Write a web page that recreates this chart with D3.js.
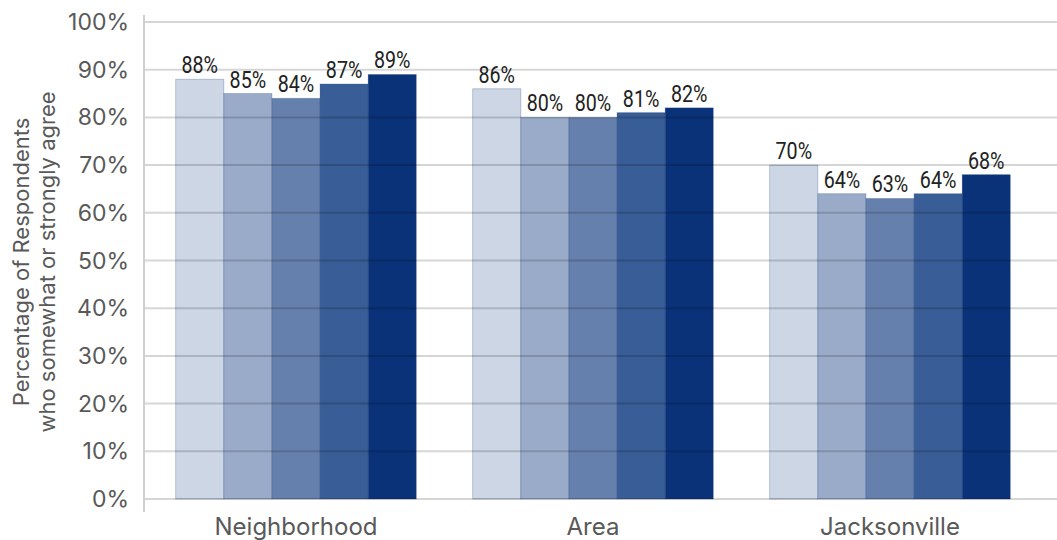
<!DOCTYPE html>
<html><head><meta charset="utf-8">
<script src="https://cdn.jsdelivr.net/npm/d3@7"></script>
<style>body{margin:0;background:#fff}svg{display:block}</style>
</head><body><svg id="c" width="1057" height="540"></svg>
<script>
const categories = ["Neighborhood", "Area", "Jacksonville"];
const seriesNames = ["S1", "S2", "S3", "S4", "S5"];
const values = [
  [88, 85, 84, 87, 89],
  [86, 80, 80, 81, 82],
  [70, 64, 63, 64, 68]
];
const colors = ["#cdd6e5", "#9aabc9", "#6680ad", "#395d96", "#0a3278"];
const yTicks = [0,10,20,30,40,50,60,70,80,90,100];
const yTitle = ["Percentage of Respondents", "who somewhat or strongly agree"];

const svg = d3.select("#c");
const y = d3.scaleLinear().domain([0,100]).range([499, 22]);
const x0 = d3.scaleBand().domain(categories).range([146, 1040]).paddingInner(0.19).paddingOuter(0.1);
const x1 = d3.scaleBand().domain(seriesNames).range([0, x0.bandwidth()]);

const g = svg.append("g");
values.forEach((row, i) => {
  const gg = g.append("g").attr("transform", `translate(${x0(categories[i])},0)`);
  gg.selectAll("rect").data(row).join("rect")
    .attr("x", (d,j)=>x1(seriesNames[j]))
    .attr("y", d=>y(d))
    .attr("width", x1.bandwidth())
    .attr("height", d=>y(0)-y(d))
    .attr("fill", (d,j)=>colors[j])
    .attr("stroke", "#2a4a85").attr("stroke-opacity", 0.35).attr("stroke-width", 0.8);
});

// gridlines on top
svg.append("g").selectAll("line").data(yTicks).join("line")
  .attr("x1", 144).attr("x2", 1057)
  .attr("y1", d=>y(d)).attr("y2", d=>y(d))
  .attr("stroke", "#000").attr("stroke-opacity", 0.16).attr("stroke-width", 2);

// labels
values.forEach((row, i) => {
  const gg = svg.append("g").attr("transform", `translate(${x0(categories[i])},0)`);
  gg.selectAll("text").data(row).join("text")
    .attr("transform", (d,j)=>`translate(${x1(seriesNames[j]) + x1.bandwidth()/2},${y(d) - 6}) scale(0.82,1)`)
    .attr("text-anchor", "middle")
    .attr("font-family", "Roboto, sans-serif")
    .attr("font-size", 24)
    .attr("fill", "#222")
    .text(d=>d + "%");
});

// y axis line
svg.append("line").attr("x1",144).attr("x2",144).attr("y1",15).attr("y2",512)
  .attr("stroke","#cfcfcf").attr("stroke-width",2);

// y tick labels
svg.append("g").selectAll("text").data(yTicks).join("text")
  .attr("x", 129).attr("y", d=>y(d)+8)
  .attr("text-anchor","end")
  .attr("font-family","Inter, Roboto, sans-serif")
  .attr("font-size",23).attr("fill","#595959")
  .text(d=>d+"%");

// category labels
svg.append("g").selectAll("text").data(categories).join("text")
  .attr("x", d=>x0(d)+x0.bandwidth()/2).attr("y", 535)
  .attr("text-anchor","middle")
  .attr("font-family","Inter, Roboto, sans-serif")
  .attr("font-size",24).attr("fill","#595959")
  .text(d=>d);

// y title
const t = svg.append("text").attr("transform","translate(0,262) rotate(-90)")
  .attr("text-anchor","middle")
  .attr("font-family","Inter, Roboto, sans-serif")
  .attr("font-size",22).attr("fill","#595959");
yTitle.forEach((s,k)=>t.append("tspan").attr("x",0).attr("y", 29 + k*26).text(s));
</script></body></html>
